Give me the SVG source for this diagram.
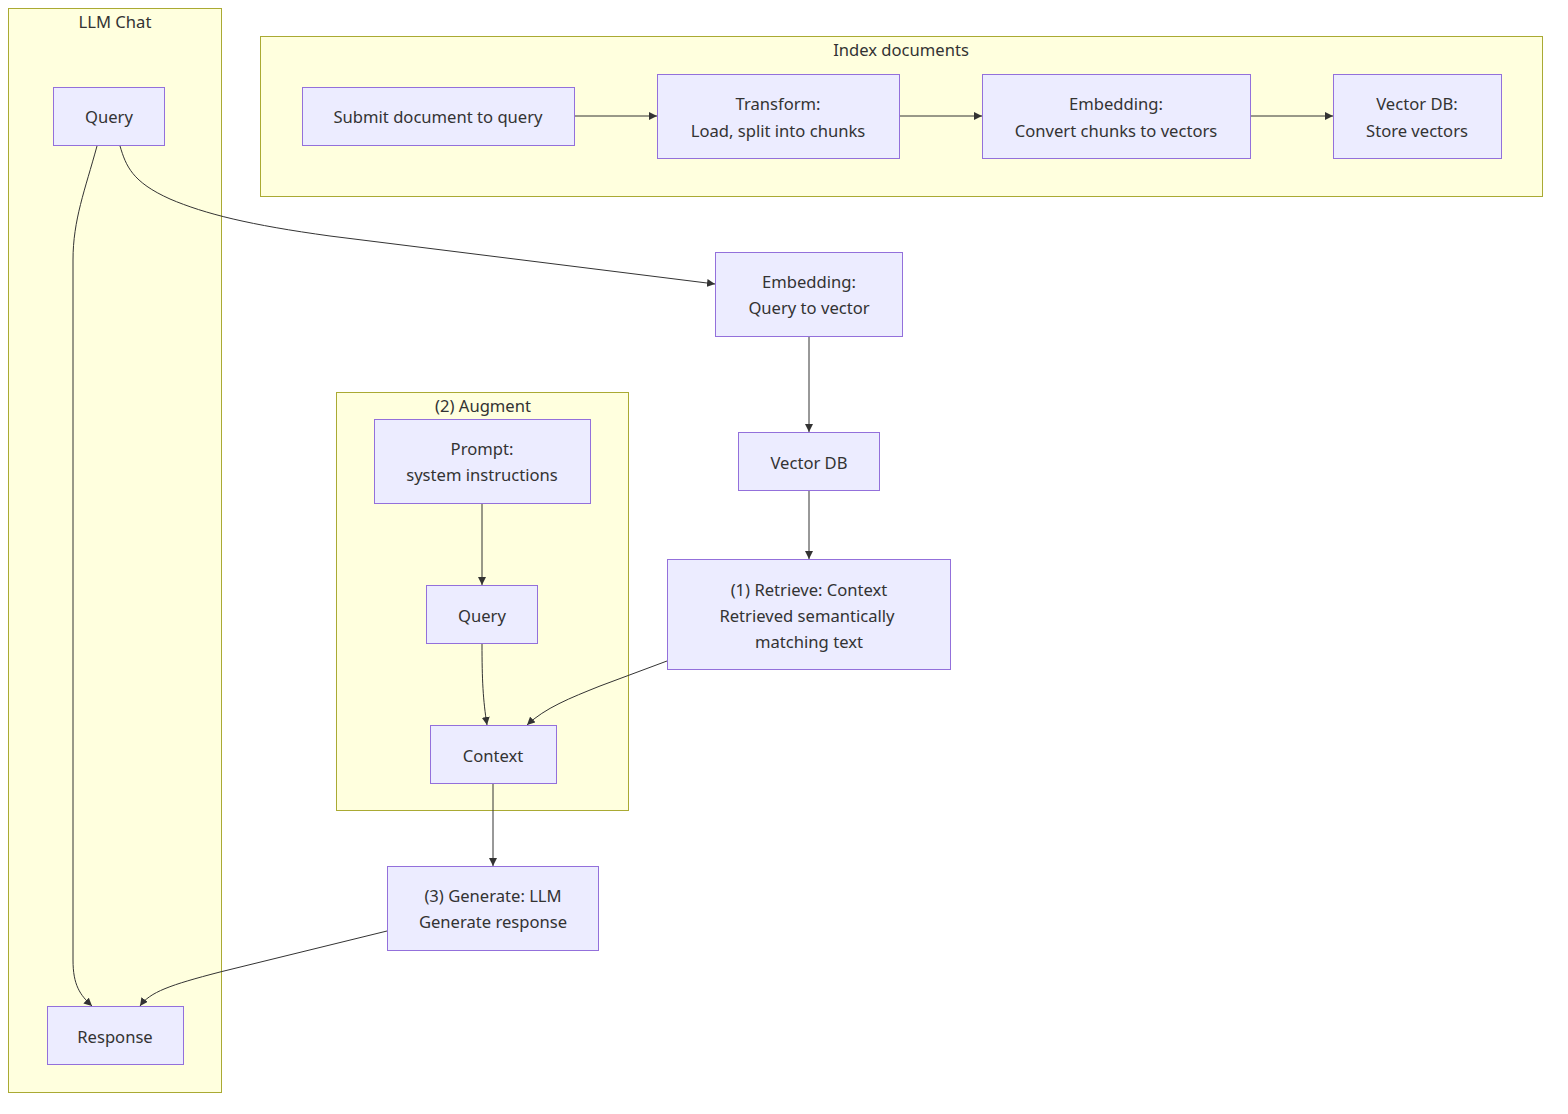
<svg xmlns="http://www.w3.org/2000/svg" width="1568" height="1114" viewBox="0 0 1568 1114">
<style>
.cluster{fill:#ffffde;stroke:#aaaa33;stroke-width:1}
.node{fill:#ECECFF;stroke:#9370DB;stroke-width:1}
text{font-family:"Noto Sans","DejaVu Sans",sans-serif;font-size:16.6px;fill:#333333;text-anchor:middle;dominant-baseline:central}
.edge{fill:none;stroke:#333333;stroke-width:1}
</style>
<defs>
<marker id="arr" viewBox="0 0 10 10" refX="10" refY="5" markerWidth="8" markerHeight="8" orient="auto" markerUnits="userSpaceOnUse">
<path d="M0,0 L10,5 L0,10 z" fill="#333333"/>
</marker>
</defs>
<rect width="1568" height="1114" fill="#ffffff"/>
<g id="cluster-llmchat">
<rect class="cluster" x="8.5" y="8.5" width="213" height="1084"/>
<text x="115" y="21">LLM Chat</text>
</g>
<g id="cluster-index">
<rect class="cluster" x="260.5" y="36.5" width="1282" height="160"/>
<text x="901" y="49">Index documents</text>
</g>
<g id="cluster-augment">
<rect class="cluster" x="336.5" y="392.5" width="292" height="418"/>
<text x="483" y="405">(2) Augment</text>
</g>
<g id="connectors">
<path class="edge" marker-end="url(#arr)" d="M575,116 L657,116"/>
<path class="edge" marker-end="url(#arr)" d="M900,116 L982,116"/>
<path class="edge" marker-end="url(#arr)" d="M1251,116 L1333,116"/>
<path class="edge" marker-end="url(#arr)" d="M120,146 C126,166 132,182 170,199 C205,214 250,225 330,236 L715,284"/>
<path class="edge" marker-end="url(#arr)" d="M97,146 C85,190 73,220 73,260 L73,960 C73,985 80,995 92,1006"/>
<path class="edge" marker-end="url(#arr)" d="M809,337 L809,432"/>
<path class="edge" marker-end="url(#arr)" d="M809,491 L809,559"/>
<path class="edge" marker-end="url(#arr)" d="M482,504 L482,585"/>
<path class="edge" marker-end="url(#arr)" d="M482,644 C482,680 483,700 487,725"/>
<path class="edge" marker-end="url(#arr)" d="M667,661 L600,686 C570,698 545,708 527,725"/>
<path class="edge" marker-end="url(#arr)" d="M493,784 L493,866"/>
<path class="edge" marker-end="url(#arr)" d="M387,931 L220,972 C170,985 150,992 140,1006"/>
</g>
<g id="node-query">
<rect class="node" x="53.5" y="87.5" width="111" height="58"/>
<text x="109" y="116">Query</text>
</g>
<g id="node-response">
<rect class="node" x="47.5" y="1006.5" width="136" height="58"/>
<text x="115" y="1036">Response</text>
</g>
<g id="node-submit">
<rect class="node" x="302.5" y="87.5" width="272" height="58"/>
<text x="438" y="116">Submit document to query</text>
</g>
<g id="node-transform">
<rect class="node" x="657.5" y="74.5" width="242" height="84"/>
<text x="778" y="103">Transform:</text>
<text x="778" y="130">Load, split into chunks</text>
</g>
<g id="node-embedding">
<rect class="node" x="982.5" y="74.5" width="268" height="84"/>
<text x="1116" y="103">Embedding:</text>
<text x="1116" y="130">Convert chunks to vectors</text>
</g>
<g id="node-vectordb-store">
<rect class="node" x="1333.5" y="74.5" width="168" height="84"/>
<text x="1417" y="103">Vector DB:</text>
<text x="1417" y="130">Store vectors</text>
</g>
<g id="node-embedding-query">
<rect class="node" x="715.5" y="252.5" width="187" height="84"/>
<text x="809" y="281">Embedding:</text>
<text x="809" y="307">Query to vector</text>
</g>
<g id="node-vectordb">
<rect class="node" x="738.5" y="432.5" width="141" height="58"/>
<text x="809" y="462">Vector DB</text>
</g>
<g id="node-retrieve">
<rect class="node" x="667.5" y="559.5" width="283" height="110"/>
<text x="809" y="589">(1) Retrieve: Context</text>
<text x="807" y="615">Retrieved semantically</text>
<text x="809" y="641">matching text</text>
</g>
<g id="node-prompt">
<rect class="node" x="374.5" y="419.5" width="216" height="84"/>
<text x="482" y="448">Prompt:</text>
<text x="482" y="474">system instructions</text>
</g>
<g id="node-query2">
<rect class="node" x="426.5" y="585.5" width="111" height="58"/>
<text x="482" y="615">Query</text>
</g>
<g id="node-context">
<rect class="node" x="430.5" y="725.5" width="126" height="58"/>
<text x="493" y="755">Context</text>
</g>
<g id="node-generate">
<rect class="node" x="387.5" y="866.5" width="211" height="84"/>
<text x="493" y="895">(3) Generate: LLM</text>
<text x="493" y="921">Generate response</text>
</g>
</svg>
